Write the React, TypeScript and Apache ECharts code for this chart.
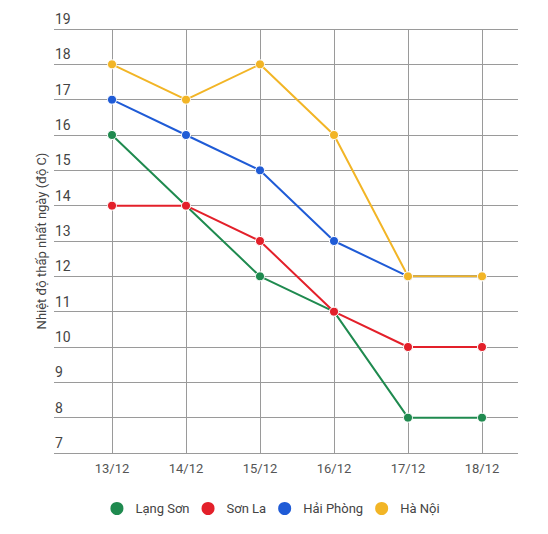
import React, { useEffect, useRef } from 'react';
import * as echarts from 'echarts';

const days = ['13/12', '14/12', '15/12', '16/12', '17/12', '18/12'];
const langSon = [16, 14, 12, 11, 8, 8];
const sonLa = [14, 14, 13, 11, 10, 10];
const haiPhong = [17, 16, 15, 13, 12, 12];
const haNoi = [18, 17, 18, 16, 12, 12];

const seriesList = [
  { name: 'Lạng Sơn', values: langSon, color: '#1f8a4f' },
  { name: 'Sơn La', values: sonLa, color: '#e3202a' },
  { name: 'Hải Phòng', values: haiPhong, color: '#1f5bd6' },
  { name: 'Hà Nội', values: haNoi, color: '#f2b526' },
];

const yTitle = 'Nhiệt độ thấp nhất ngày (độ C)';
const font = 'Roboto, "Noto Sans", sans-serif';

const App: React.FC = () => {
  const chartRef = useRef<HTMLDivElement>(null);

  useEffect(() => {
    if (!chartRef.current) return;
    const chart = echarts.init(chartRef.current, null, { renderer: 'svg' });

    const option = {
      animation: false,
      textStyle: { fontFamily: font },
      // grid 0 carries the long horizontal lines + y labels, grid 1 the data
      grid: [
        { left: 54, right: 30, top: 29, bottom: 81 },
        { left: 112, right: 66, top: 29, bottom: 81 },
      ],
      xAxis: [
        { gridIndex: 0, type: 'category', data: days, show: false },
        {
          gridIndex: 1,
          type: 'category',
          data: days,
          boundaryGap: false,
          axisLine: { show: false },
          axisTick: { show: false },
          axisLabel: { color: '#555', fontSize: 13, margin: 9, fontFamily: font },
          splitLine: { show: true, lineStyle: { color: '#9a9a9a', width: 1 } },
        },
      ],
      yAxis: [
        {
          gridIndex: 0,
          type: 'value',
          min: 7,
          max: 19,
          interval: 1,
          axisLine: { show: false },
          axisTick: { show: false },
          axisLabel: {
            inside: true,
            margin: 1,
            verticalAlign: 'bottom',
            padding: [0, 0, 3, 0],
            color: '#444',
            fontSize: 14,
            fontFamily: font,
          },
          splitLine: { show: true, lineStyle: { color: '#9a9a9a', width: 1 } },
        },
        {
          gridIndex: 1,
          type: 'value',
          min: 7,
          max: 19,
          interval: 1,
          show: false,
          splitLine: { show: false },
        },
      ],
      legend: {
        bottom: 12,
        left: 'center',
        icon: 'circle',
        itemWidth: 15,
        itemHeight: 15,
        itemGap: 10,
        textStyle: { color: '#444', fontSize: 13, fontFamily: font, padding: [0, 0, 0, 6] },
        data: seriesList.map((s) => s.name),
      },
      graphic: [
        {
          type: 'text',
          x: 41,
          y: 241,
          rotation: Math.PI / 2,
          style: {
            text: yTitle,
            fill: '#444',
            fontSize: 13,
            fontFamily: font,
            align: 'center',
            verticalAlign: 'middle',
          },
        },
      ],
      series: seriesList.map((s) => ({
        name: s.name,
        type: 'line',
        xAxisIndex: 1,
        yAxisIndex: 1,
        data: s.values,
        symbol: 'circle',
        symbolSize: 9,
        lineStyle: { width: 2, color: s.color },
        itemStyle: { color: s.color, borderColor: '#fff', borderWidth: 1 },
      })),
    };

    chart.setOption(option);
    return () => {
      chart.dispose();
    };
  }, []);

  return (
    <div
      ref={chartRef}
      style={{ position: 'absolute', left: 0, top: 0, width: 548, height: 534, background: '#fff' }}
    />
  );
};

export default App;
